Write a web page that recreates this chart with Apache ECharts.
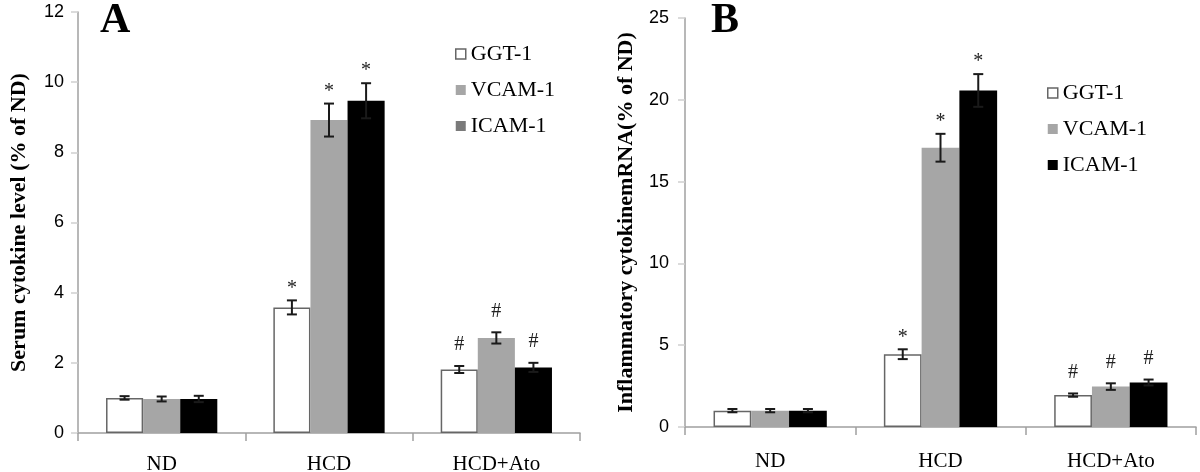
<!DOCTYPE html>
<html><head><meta charset="utf-8">
<script src="https://cdn.jsdelivr.net/npm/echarts@6/dist/echarts.min.js"></script>
<style>html,body{margin:0;padding:0;background:#fff}#c{width:1200px;height:472px}</style>
</head><body><div id="c"></div>
<script>
const categories = ['ND', 'HCD', 'HCD+Ato'];
const seriesNames = ['GGT-1', 'VCAM-1', 'ICAM-1'];
const markers = ['', '*', '#'];

// Panel A: Serum cytokine level (% of ND)
const aGGT = [1.00, 3.58, 1.81];
const aGGTErr = [0.05, 0.20, 0.10];
const aVCAM = [0.97, 8.92, 2.71];
const aVCAMErr = [0.07, 0.47, 0.16];
const aICAM = [0.97, 9.47, 1.87];
const aICAMErr = [0.09, 0.50, 0.13];

// Panel B: Inflammatory cytokine mRNA (% of ND)
const bGGT = [1.00, 4.45, 1.95];
const bGGTErr = [0.10, 0.30, 0.10];
const bVCAM = [1.00, 17.07, 2.47];
const bVCAMErr = [0.10, 0.85, 0.20];
const bICAM = [1.00, 20.57, 2.72];
const bICAMErr = [0.10, 1.00, 0.18];

const GAP = 0.335;
const serif = "'Liberation Serif', 'DejaVu Serif', serif";
const sans = "'Liberation Sans', Arial, sans-serif";

const barStyles = [
  { color: '#ffffff', borderColor: '#666666', borderWidth: 1.5 },
  { color: '#a6a6a6' },
  { color: '#000000' }
];

function errRender(idx) {
  return function (params, api) {
    const cat = api.value(0), v = api.value(1), e = api.value(2);
    const band = api.size([1, 0])[0];
    const groupW = band * (1 - GAP);
    const bw = groupW / 3;
    const cx = api.coord([cat, 0])[0] - groupW / 2 + bw * (idx + 0.5);
    const yTop = api.coord([cat, v + e])[1];
    const yBot = api.coord([cat, v - e])[1];
    const cap = 5;
    const ls = { stroke: '#1a1a1a', lineWidth: 2 };
    const children = [
      { type: 'line', shape: { x1: cx, y1: yTop, x2: cx, y2: yBot }, style: ls },
      { type: 'line', shape: { x1: cx - cap, y1: yTop, x2: cx + cap, y2: yTop }, style: ls },
      { type: 'line', shape: { x1: cx - cap, y1: yBot, x2: cx + cap, y2: yBot }, style: ls }
    ];
    const m = markers[cat];
    if (m) {
      const dy = m === '*' ? 12 : 21;
      children.push({
        type: 'text',
        style: {
          text: m, x: cx, y: yTop - dy,
          textAlign: 'center', textVerticalAlign: 'middle',
          align: 'center', verticalAlign: 'middle',
          font: '20px ' + serif, fill: '#222'
        }
      });
    }
    return { type: 'group', children: children };
  };
}

function errData(vals, errs) {
  return vals.map((v, i) => [i, v, errs[i]]);
}

const panels = [
  { vals: [aGGT, aVCAM, aICAM], errs: [aGGTErr, aVCAMErr, aICAMErr] },
  { vals: [bGGT, bVCAM, bICAM], errs: [bGGTErr, bVCAMErr, bICAMErr] }
];

const series = [];
panels.forEach((p, gi) => {
  p.vals.forEach((vals, si) => {
    series.push({
      type: 'bar', name: seriesNames[si], xAxisIndex: gi, yAxisIndex: gi,
      data: vals, barGap: 0, barCategoryGap: (GAP * 100) + '%',
      itemStyle: barStyles[si], emphasis: { disabled: true }, silent: true, z: 2
    });
  });
  p.vals.forEach((vals, si) => {
    series.push({
      type: 'custom', name: 'err' + gi + si, xAxisIndex: gi, yAxisIndex: gi,
      data: errData(vals, p.errs[si]), renderItem: errRender(si), z: 5, silent: true
    });
  });
});

const axisLineGray = { show: true, lineStyle: { color: '#a0a0a0', width: 1.5 } };

function xAxis(gi, margin) {
  return {
    type: 'category', gridIndex: gi, data: categories, boundaryGap: true,
    axisLine: axisLineGray,
    axisTick: { show: true, length: 8, alignWithLabel: false, lineStyle: { color: '#a0a0a0', width: 1.5 } },
    axisLabel: { color: '#000', fontFamily: serif, fontSize: 21, margin: margin }
  };
}
function yAxis(gi, max, interval, name, margin) {
  return {
    type: 'value', gridIndex: gi, min: 0, max: max, interval: interval,
    name: name, nameLocation: 'middle', nameRotate: 90, nameGap: 48,
    nameTextStyle: { fontFamily: serif, fontWeight: 'bold', fontSize: 22, color: '#000' },
    splitLine: { show: false },
    axisLine: axisLineGray,
    axisTick: { show: true, length: 7, lineStyle: { color: '#cfcfcf', width: 1.5 } },
    axisLabel: { color: '#000', fontFamily: sans, fontSize: 18, margin: margin }
  };
}

function legend(left, top, icCol) {
  return {
    orient: 'vertical', left: left, top: top, itemWidth: 10, itemHeight: 10, itemGap: 14,
    selectedMode: false, icon: 'rect',
    textStyle: { fontFamily: serif, fontSize: 22, color: '#000' },
    data: [
      { name: 'GGT-1', itemStyle: { color: '#ffffff', borderColor: '#666', borderWidth: 1.5 } },
      { name: 'VCAM-1', itemStyle: { color: '#a6a6a6' } },
      { name: 'ICAM-1', itemStyle: { color: icCol } }
    ]
  };
}

const option = {
  animation: false,
  backgroundColor: '#fff',
  grid: [
    { left: 78, right: 620, top: 12, bottom: 39, outerBoundsMode: 'none', containLabel: false },
    { left: 685, right: 4, top: 18, bottom: 45, outerBoundsMode: 'none', containLabel: false }
  ],
  xAxis: [xAxis(0, 21), xAxis(1, 24)],
  yAxis: [
    yAxis(0, 12, 2, 'Serum cytokine level (% of ND)', 14),
    yAxis(1, 25, 5, 'Inflammatory cytokinemRNA(% of ND)', 16)
  ],
  legend: [legend(450, 38, '#7a7a7a'), legend(1042, 77, '#000000')],
  graphic: [
    { type: 'text', left: 100, top: 0, style: { text: 'A', font: 'bold 42px ' + serif, fill: '#000' } },
    { type: 'text', left: 711, top: 0, style: { text: 'B', font: 'bold 42px ' + serif, fill: '#000' } }
  ],
  series: series
};

const chart = echarts.init(document.getElementById('c'), null, { renderer: 'canvas' });
chart.setOption(option);
</script>
</body></html>
